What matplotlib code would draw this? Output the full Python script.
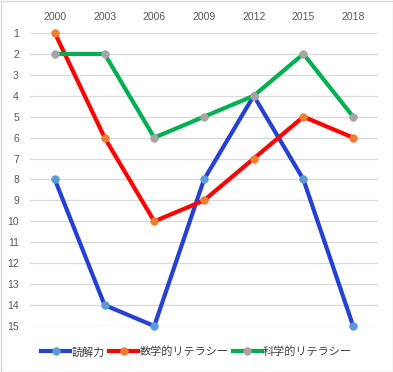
import matplotlib
matplotlib.use("Agg")
import matplotlib.pyplot as plt

years = ["2000", "2003", "2006", "2009", "2012", "2015", "2018"]
reading = [8, 14, 15, 8, 4, 8, 15]
math = [1, 6, 10, 9, 7, 5, 6]
science = [2, 2, 6, 5, 4, 2, 5]
series_names = ["読解力", "数学的リテラシー", "科学的リテラシー"]

fig = plt.figure(figsize=(3.93, 3.72), dpi=100)
ax = fig.add_axes([30/393, (372-326)/372, (378-30)/393, (326-33)/372])

x = list(range(len(years)))
styles = [
    (reading, "#2541D4", "#5B9BD5"),
    (math, "#FF0000", "#ED7D31"),
    (science, "#00B050", "#A5A5A5"),
]
for (vals, lc, mc), name in zip(styles, series_names):
    ax.plot(x, vals, color=lc, lw=3, marker="o", ms=5.5, mfc=mc, mec=mc,
            mew=0.5, label=name, solid_joinstyle="miter", zorder=3, clip_on=False)

ax.set_xlim(-0.5, len(years) - 0.5)
ax.set_ylim(15, 1)
ax.set_yticks(range(1, 16))
ax.set_xticks(x)
ax.set_xticklabels(years)
ax.xaxis.tick_top()
ax.tick_params(axis="both", length=0, colors="#595959", labelsize=7.5)
ax.tick_params(axis="x", pad=8)
ax.tick_params(axis="y", pad=8)
for lab in ax.get_xticklabels() + ax.get_yticklabels():
    lab.set_family("Liberation Sans")
ax.grid(axis="y", color="#D9D9D9", lw=0.9)
ax.set_axisbelow(True)
for s in ax.spines.values():
    s.set_visible(False)

leg = fig.legend(loc="center", bbox_to_anchor=(0.5, (372-352)/372), ncol=3,
                 frameon=False, prop={"family": ["Noto Sans CJK JP", "DejaVu Sans"], "size": 8},
                 handlelength=2.6, handletextpad=0.1, columnspacing=0.4)
for t in leg.get_texts():
    t.set_color("#404040")

fig.patches.append(plt.Rectangle((0.5/393, 0.5/372), 1 - 1/393, 1 - 1/372, transform=fig.transFigure,
                                 fill=False, ec="#D9D9D9", lw=1))
fig.savefig("out.png", dpi=100)
